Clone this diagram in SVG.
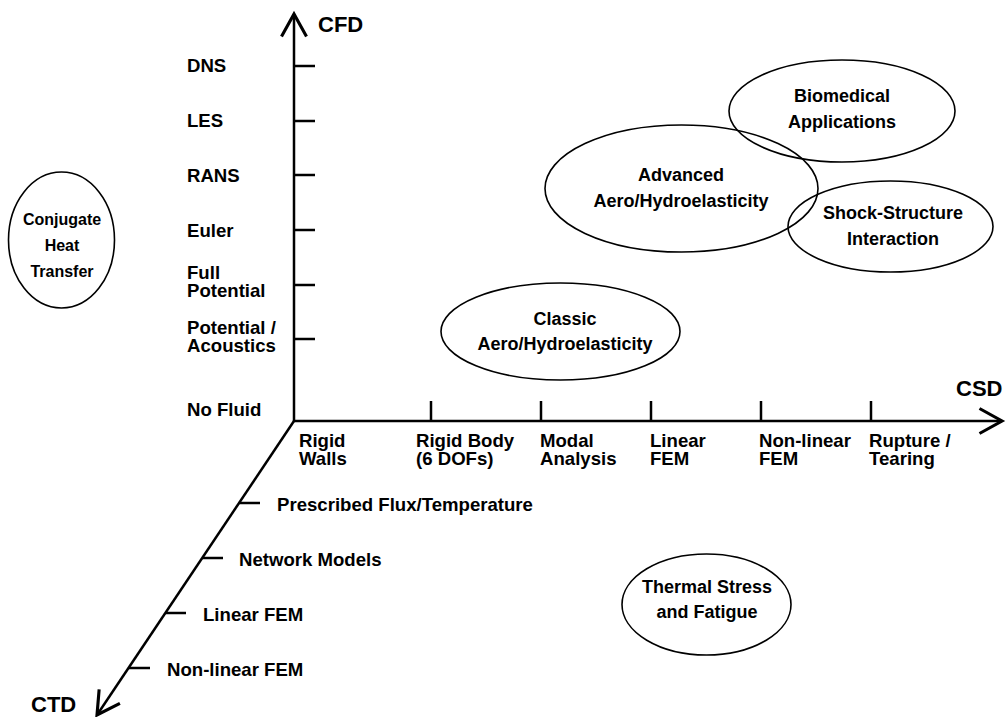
<svg xmlns="http://www.w3.org/2000/svg" width="1006" height="717" viewBox="0 0 1006 717">
<defs>
<style>
text{font-family:"Liberation Sans",Arial,sans-serif;font-weight:bold;fill:#000}
.lbl{font-size:18.6px}
.ttl{font-size:22px}
.el{font-size:18px;text-anchor:middle}
.sm{font-size:16px}
.ax{stroke:#000;stroke-width:2.5;fill:none}
.tk{stroke:#000;stroke-width:2.5}
.ov{fill:none;stroke:#000;stroke-width:1.6}
</style>
<marker id="arr" markerUnits="userSpaceOnUse" markerWidth="30" markerHeight="30" refX="0" refY="0" viewBox="-20 -12 22 24" orient="auto" overflow="visible">
<path d="M-18,-10 L0,0 L-18,10" fill="none" stroke="#000" stroke-width="2.5"/>
</marker>
</defs>
<rect width="1006" height="717" fill="#fff"/>
<g id="connectors">
<line class="ax" x1="294" y1="421" x2="294" y2="14" marker-end="url(#arr)"/>
<line class="ax" x1="294" y1="421" x2="1002" y2="421" marker-end="url(#arr)"/>
<line class="ax" x1="294" y1="421" x2="97" y2="715" marker-end="url(#arr)"/>
<line class="tk" x1="294" y1="66" x2="315" y2="66"/>
<line class="tk" x1="294" y1="121" x2="315" y2="121"/>
<line class="tk" x1="294" y1="175" x2="315" y2="175"/>
<line class="tk" x1="294" y1="230" x2="315" y2="230"/>
<line class="tk" x1="294" y1="285" x2="315" y2="285"/>
<line class="tk" x1="294" y1="339" x2="315" y2="339"/>
<line class="tk" x1="431" y1="421" x2="431" y2="401"/>
<line class="tk" x1="541" y1="421" x2="541" y2="401"/>
<line class="tk" x1="651" y1="421" x2="651" y2="401"/>
<line class="tk" x1="761" y1="421" x2="761" y2="401"/>
<line class="tk" x1="871" y1="421" x2="871" y2="401"/>
<line class="tk" x1="239" y1="503" x2="260" y2="503"/>
<line class="tk" x1="202" y1="558" x2="223" y2="558"/>
<line class="tk" x1="165" y1="613" x2="186" y2="613"/>
<line class="tk" x1="129" y1="668" x2="150" y2="668"/>
</g>
<g id="axis-titles">
<text class="ttl" x="318" y="32">CFD</text>
<text class="ttl" x="956" y="396">CSD</text>
<text class="ttl" x="31" y="712">CTD</text>
</g>
<g id="cfd-labels">
<text class="lbl" x="187" y="72">DNS</text>
<text class="lbl" x="187" y="127">LES</text>
<text class="lbl" x="187" y="182">RANS</text>
<text class="lbl" x="187" y="237">Euler</text>
<text class="lbl" x="187" y="279">Full</text>
<text class="lbl" x="187" y="297">Potential</text>
<text class="lbl" x="187" y="334">Potential /</text>
<text class="lbl" x="187" y="352">Acoustics</text>
<text class="lbl" x="187" y="416">No Fluid</text>
</g>
<g id="csd-labels">
<text class="lbl" x="299" y="447">Rigid</text>
<text class="lbl" x="299" y="465">Walls</text>
<text class="lbl" x="416" y="447">Rigid Body</text>
<text class="lbl" x="416" y="465">(6 DOFs)</text>
<text class="lbl" x="540" y="447">Modal</text>
<text class="lbl" x="540" y="465">Analysis</text>
<text class="lbl" x="650" y="447">Linear</text>
<text class="lbl" x="650" y="465">FEM</text>
<text class="lbl" x="759" y="447">Non-linear</text>
<text class="lbl" x="759" y="465">FEM</text>
<text class="lbl" x="869" y="447">Rupture /</text>
<text class="lbl" x="869" y="465">Tearing</text>
</g>
<g id="ctd-labels">
<text class="lbl" x="277" y="511">Prescribed Flux/Temperature</text>
<text class="lbl" x="239" y="566">Network Models</text>
<text class="lbl" x="203" y="621">Linear FEM</text>
<text class="lbl" x="167" y="676">Non-linear FEM</text>
</g>
<g id="conjugate-heat-transfer">
<ellipse class="ov" cx="61.5" cy="240" rx="53" ry="68"/>
<text class="el sm" x="62" y="225">Conjugate</text>
<text class="el sm" x="62" y="251">Heat</text>
<text class="el sm" x="62" y="277">Transfer</text>
</g>
<g id="classic-aero">
<ellipse class="ov" cx="560.5" cy="331.5" rx="119.5" ry="48.5"/>
<text class="el" x="565" y="325">Classic</text>
<text class="el" x="565" y="350">Aero/Hydroelasticity</text>
</g>
<g id="advanced-aero">
<ellipse class="ov" cx="681.5" cy="188.5" rx="136.5" ry="63.5"/>
<text class="el" x="681" y="181">Advanced</text>
<text class="el" x="681" y="207">Aero/Hydroelasticity</text>
</g>
<g id="biomedical">
<ellipse class="ov" cx="842" cy="111" rx="113" ry="51"/>
<text class="el" x="842" y="102">Biomedical</text>
<text class="el" x="842" y="128">Applications</text>
</g>
<g id="shock-structure">
<ellipse class="ov" cx="890.5" cy="226.5" rx="102.5" ry="45.5"/>
<text class="el" x="893" y="219">Shock-Structure</text>
<text class="el" x="893" y="245">Interaction</text>
</g>
<g id="thermal-stress">
<ellipse class="ov" cx="706.5" cy="604.5" rx="84.5" ry="50.5"/>
<text class="el" x="707" y="593">Thermal Stress</text>
<text class="el" x="707" y="618">and Fatigue</text>
</g>
</svg>
